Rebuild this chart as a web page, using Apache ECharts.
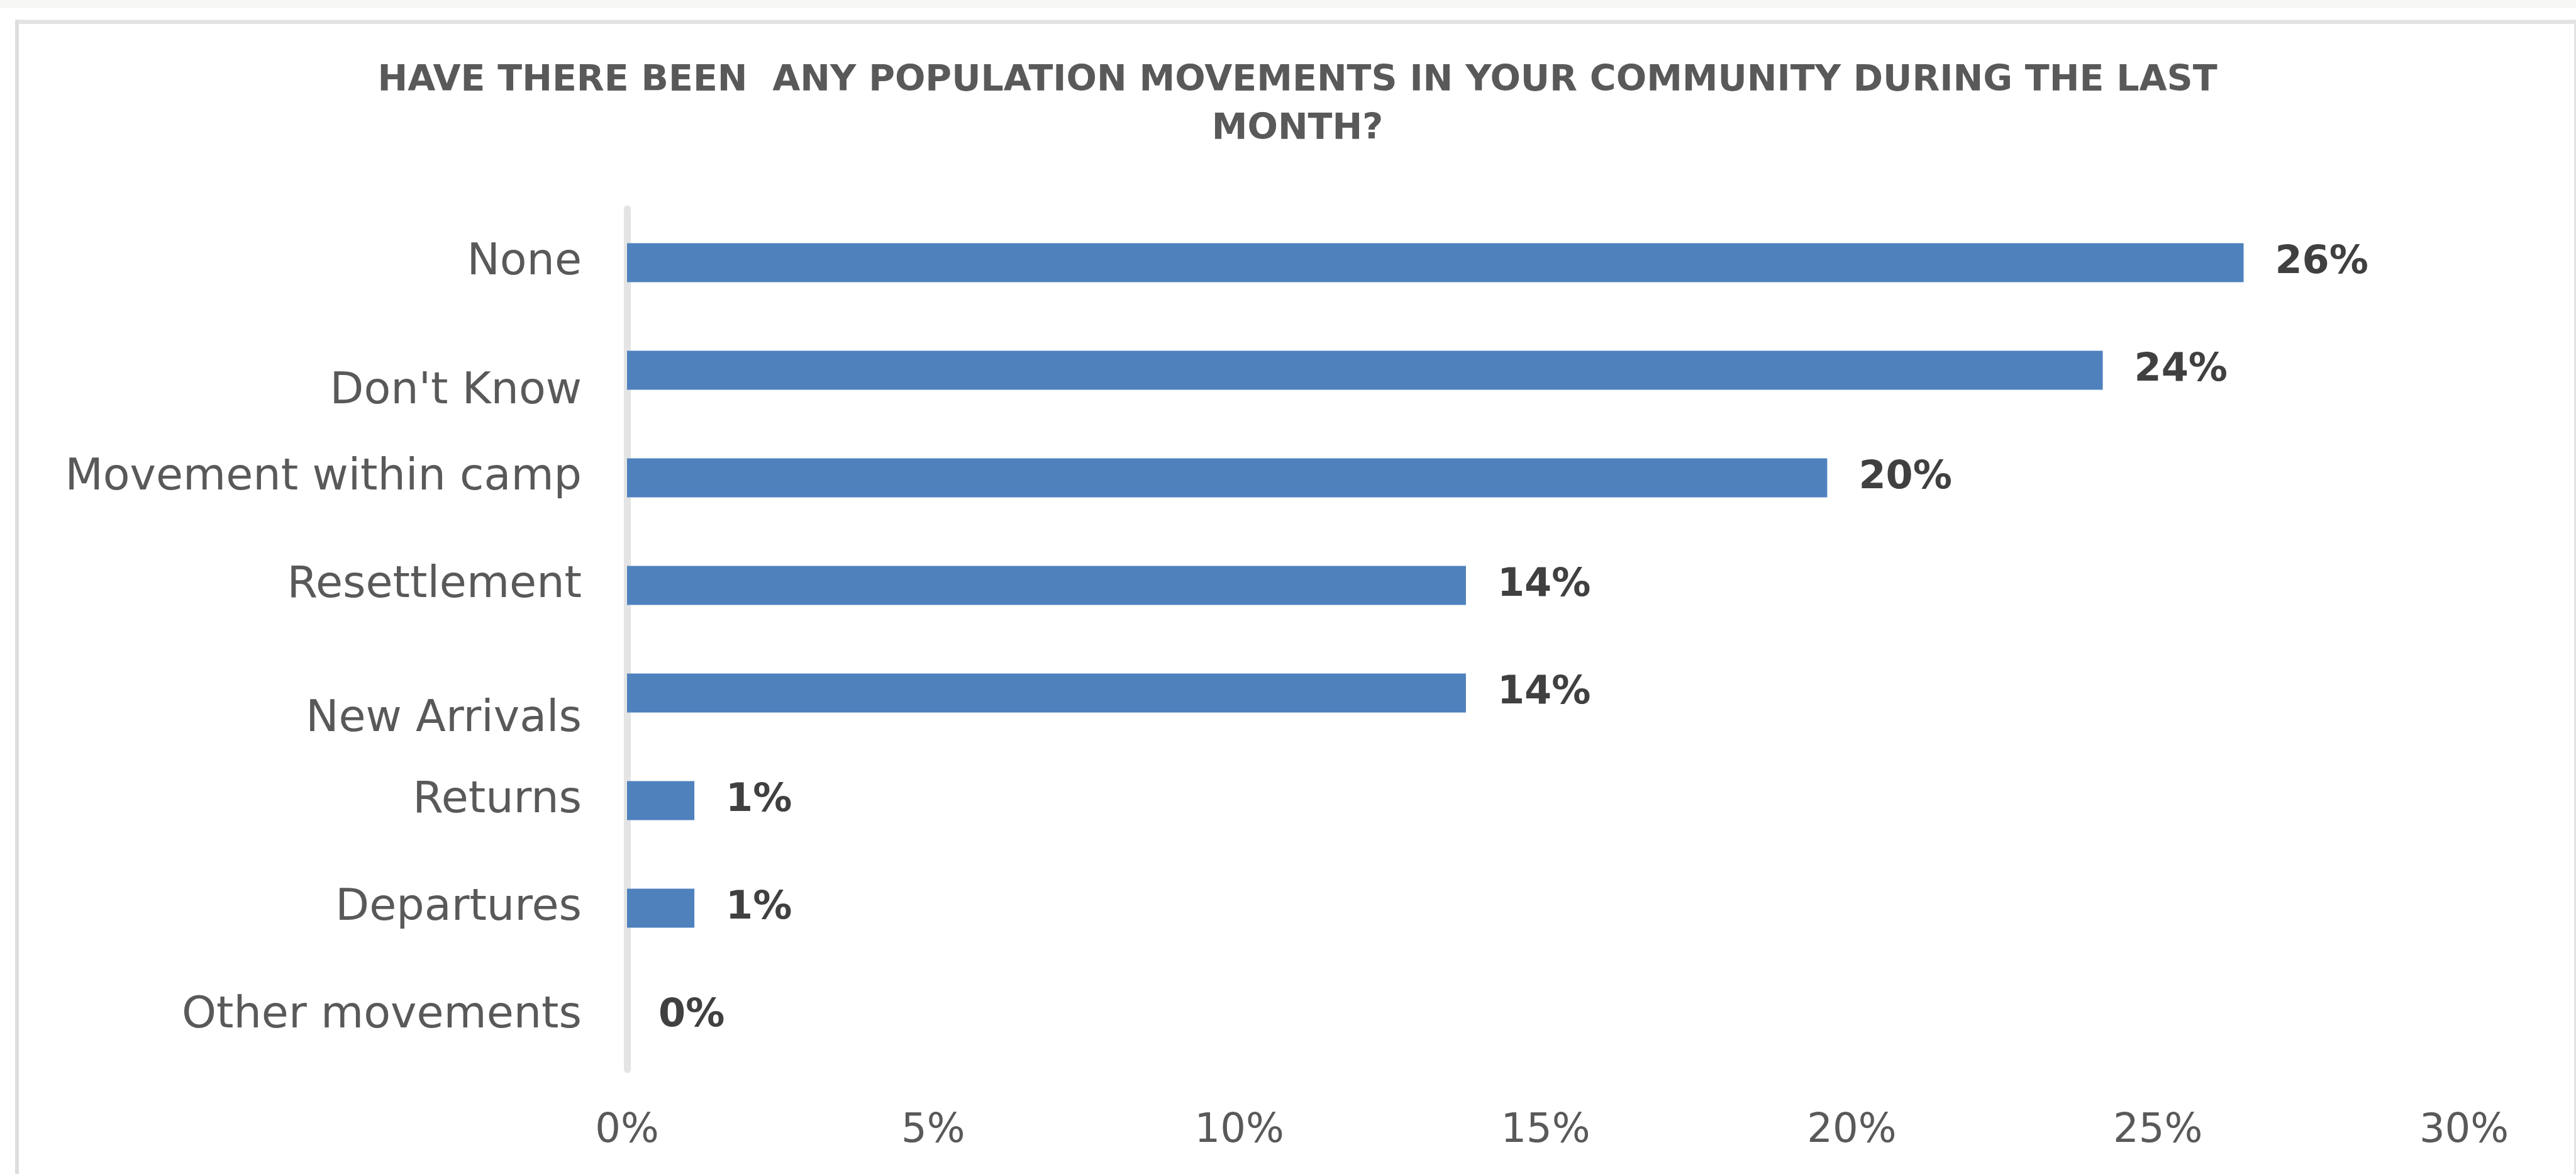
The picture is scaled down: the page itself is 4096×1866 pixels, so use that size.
<!DOCTYPE html>
<html>
<head>
<meta charset="utf-8">
<script src="https://cdn.jsdelivr.net/npm/echarts@6/dist/echarts.min.js"></script>
<style>
  html, body { margin: 0; padding: 0; background: #ffffff; }
  #chart { width: 4096px; height: 1866px; }
</style>
</head>
<body>
<div id="chart"></div>
<script>
// Survey answers, top to bottom
const categories = ['None', "Don't Know", 'Movement within camp', 'Resettlement', 'New Arrivals', 'Returns', 'Departures', 'Other movements'];
// Share of respondents, in percent
const shares = [26.4, 24.1, 19.6, 13.7, 13.7, 1.1, 1.1, 0];
// Value-axis tick labels
const tickLabels = ['0%', '5%', '10%', '15%', '20%', '25%', '30%'];
const titleLines = ['HAVE THERE BEEN  ANY POPULATION MOVEMENTS IN YOUR COMMUNITY DURING THE LAST', 'MONTH?'];

// A couple of category labels sit a little lower than their bars (px)
const labelDrop = { "Don't Know": 34, 'New Arrivals': 42 };

const FONT = 'DejaVu Sans';
const TEXT_GREY = '#595959';
const CAT_SIZE = 70;

const rich = {};
Object.keys(labelDrop).forEach(function (name, i) {
  rich['d' + i] = { fontFamily: FONT, fontSize: CAT_SIZE, color: TEXT_GREY, padding: [labelDrop[name] * 2, 0, 0, 0] };
});

const chart = echarts.init(document.getElementById('chart'), null, { renderer: 'canvas' });

chart.setOption({
  animation: false,
  backgroundColor: '#ffffff',
  title: {
    text: titleLines.join('\n'),
    left: 2058,
    top: 86,
    textAlign: 'center',
    textStyle: {
      fontFamily: FONT,
      fontWeight: 'bold',
      fontSize: 57,
      lineHeight: 77,
      color: TEXT_GREY
    }
  },
  graphic: [
    // page strip above the chart frame
    { type: 'rect', silent: true, shape: { x: 0, y: 0, width: 4096, height: 12.5 }, style: { fill: '#f7f7f5' } },
    // chart frame
    { type: 'rect', silent: true, shape: { x: 24, y: 31.5, width: 4072, height: 6.5 }, style: { fill: '#e3e3e3' } },
    { type: 'rect', silent: true, shape: { x: 24, y: 31.5, width: 6, height: 1840 }, style: { fill: '#dedede' } },
    { type: 'rect', silent: true, shape: { x: 4093, y: 31.5, width: 3, height: 1840 }, style: { fill: '#e3e3e3' } }
  ],
  grid: {
    left: 997,
    right: 178,
    top: 332,
    bottom: 166,
    containLabel: false
  },
  xAxis: {
    type: 'value',
    min: 0,
    max: 30,
    interval: 5,
    axisLine: { show: false },
    axisTick: { show: false },
    splitLine: { show: false },
    axisLabel: {
      margin: 66,
      fontFamily: FONT,
      fontSize: 64,
      color: TEXT_GREY,
      formatter: function (v, i) { return tickLabels[i]; }
    }
  },
  yAxis: {
    type: 'category',
    inverse: true,
    data: categories,
    axisLine: { show: true, lineStyle: { color: '#e4e4e4', width: 11 } },
    axisTick: { show: false },
    splitLine: { show: false },
    axisLabel: {
      margin: 72,
      fontFamily: FONT,
      fontSize: CAT_SIZE,
      color: TEXT_GREY,
      rich: rich,
      formatter: function (v) {
        const keys = Object.keys(labelDrop);
        const k = keys.indexOf(v);
        return k >= 0 ? '{d' + k + '|' + v + '}' : v;
      }
    }
  },
  series: [{
    type: 'bar',
    data: shares,
    barWidth: 62,
    itemStyle: { color: '#4f81bd' },
    label: {
      show: true,
      position: 'right',
      distance: 50,
      fontFamily: FONT,
      fontWeight: 'bold',
      fontSize: 62,
      color: '#404040',
      formatter: function (p) { return Math.round(p.value) + '%'; }
    }
  }]
});
</script>
</body>
</html>
